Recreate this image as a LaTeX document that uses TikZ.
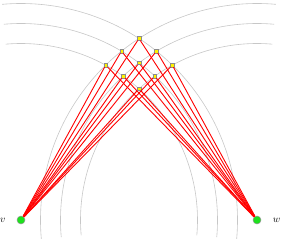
\documentclass[tikz,border=0pt]{standalone}
\begin{document}
\begin{tikzpicture}[x=1pt,y=1pt,
  arcline/.style={draw=black!22,line width=0.6pt},
  ray/.style={draw=red,line width=0.9pt},
  endpt/.style={circle,fill=ptgreen,draw=black!40,line width=0.5pt,inner sep=0pt,minimum size=8pt},
  gridpt/.style={rectangle,fill=yellow,draw=black!45,line width=0.4pt,inner sep=0pt,minimum size=3.6pt}]
\definecolor{ptgreen}{RGB}{30,225,30}
\useasboundingbox (-21,-21) rectangle (261,220);
\def\D{236}
% arcs centred at v and at w
\foreach \r in {176.5,196.5,216.5}{
  \draw[arcline] (0,0) ++(-5:\r) arc[start angle=-5,end angle=95,radius=\r];
  \draw[arcline] (\D,0) ++(185:\r) arc[start angle=185,end angle=85,radius=\r];
}
\node[endpt,label={[label distance=8pt]left:$v$}] (v) at (0,0) {};
\node[endpt,label={[label distance=8pt]right:$w$}] (w) at (\D,0) {};
% grid points: intersections of circle(v,a) and circle(w,b)
\foreach \i/\a in {1/1.765,2/1.965,3/2.165}{
  \foreach \j/\b in {1/1.765,2/1.965,3/2.165}{
    \pgfmathsetmacro{\px}{(\a*\a-\b*\b+2.36*2.36)/(2*2.36)}
    \pgfmathsetmacro{\py}{sqrt(\a*\a-\px*\px)}
    \node[gridpt] (p\i\j) at (100*\px,100*\py) {};
  }
}
\foreach \i in {1,2,3}{
  \foreach \j in {1,2,3}{
    \draw[ray] (v) -- (p\i\j);
    \draw[ray] (w) -- (p\i\j);
  }
}
\end{tikzpicture}
\end{document}
